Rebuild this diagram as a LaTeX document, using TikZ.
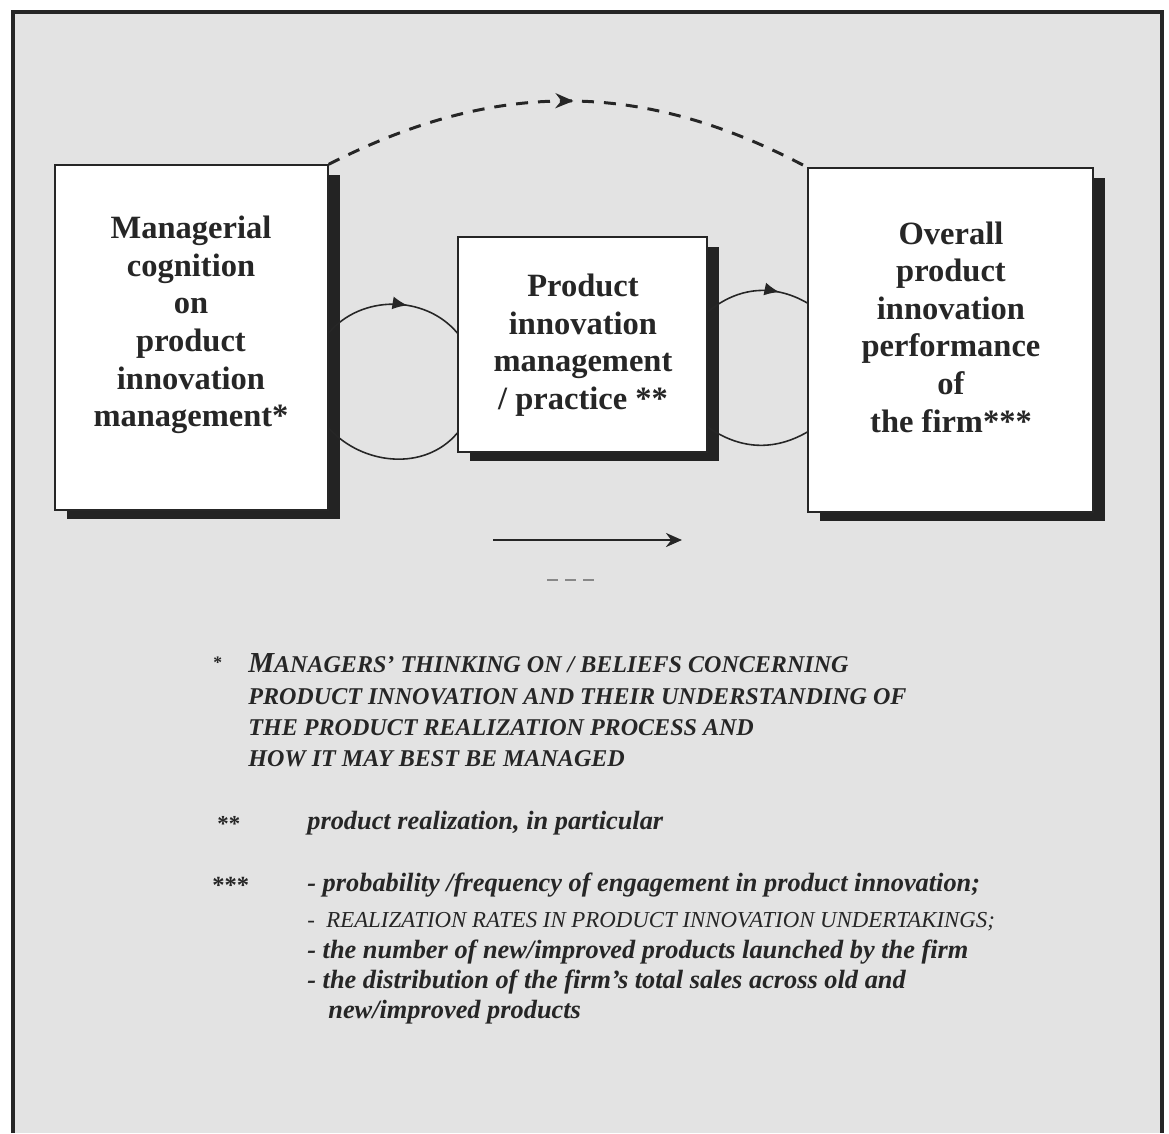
\documentclass[tikz,border=0pt]{standalone}
\usepackage{fontspec}
\setmainfont{Liberation Serif}
\usetikzlibrary{shadows,arrows.meta,decorations.markings}

\definecolor{paper}{RGB}{227,227,227}
\definecolor{ink}{RGB}{38,38,38}
\definecolor{shade}{RGB}{35,35,35}

\tikzset{
  blok/.style={draw=ink, line width=0.8pt, fill=white, inner sep=0pt,
    drop shadow={shadow xshift=0.24cm, shadow yshift=-0.19cm, fill=shade, opacity=1}},
  bloktxt/.style={align=center, inner sep=0pt, text=ink,
    font=\fontsize{18.5}{21.4}\selectfont\bfseries},
  cyc/.style={ink, line width=0.9pt},
  midarrow/.style={postaction={decorate}, decoration={markings,
    mark=at position #1 with {\arrow{Latex[length=3mm,width=2.6mm]}}}},
  note/.style={anchor=base west, inner sep=0pt, text=ink,
    font=\fontsize{15}{18}\selectfont\bfseries\itshape},
  capnote/.style={note, font=\fontsize{13.7}{16}\selectfont\bfseries\itshape},
}

\begin{document}
\begin{tikzpicture}[x=0.02cm, y=0.02cm]

  % 背景和边框, 下面是开口的
  \useasboundingbox (0,0) rectangle (1169,-1133);
  \fill[white] (0,0) rectangle (1169,-1133);
  \fill[paper] (13,-12) rectangle (1162,-1133);
  \draw[ink, line width=2.2pt] (13,-1133) -- (13,-12) -- (1162,-12) -- (1162,-1133);

  % 三个带阴影的方框
  \node[blok, minimum width=5.46cm, minimum height=6.9cm] (cog) at (191.5,-337.5) {};
  \node[blok, minimum width=4.98cm, minimum height=4.3cm] (prac) at (582.5,-344.5) {};
  \node[blok, minimum width=5.7cm, minimum height=6.88cm] (perf) at (950.5,-340) {};

  % 方框里的文字
  \node[bloktxt] (cogtxt) at (191,-325) {Managerial\\cognition\\on\\product\\innovation\\management*};
  \node[bloktxt] (practxt) at (583,-345) {Product\\innovation\\management\\/ practice **};
  \node[bloktxt] (perftxt) at (951,-327) {Overall\\product\\innovation\\performance\\of\\the firm***};

  % 方框之间的弧线, 上面的带箭头
  \draw[cyc, midarrow=0.6] (cog.east |- 0,-333) to[out=50,in=130] (prac.west |- 0,-333);
  \draw[cyc] (cog.east |- 0,-428) to[out=-48,in=-130] (prac.west |- 0,-433);
  \draw[cyc, midarrow=0.72] (prac.east |- 0,-312) to[out=40,in=150] (perf.west |- 0,-303);
  \draw[cyc] (prac.east |- 0,-427) to[out=-35,in=-150] (perf.west |- 0,-432);

  % 上方的虚线弧, 中间一个箭头
  \draw[ink, line width=1.7pt, dash pattern=on 0.24cm off 0.2cm, postaction={decorate},
    decoration={markings, mark=at position 0.51 with {\arrow{Stealth[length=3.6mm,width=3mm]}}}]
    (cog.north east) to[out=27,in=152] (perf.north west);

  % 图例: 实线箭头和虚线
  \coordinate (solidS) at (493,-540);
  \coordinate (solidE) at (682,-540);
  \draw[ink, line width=1.5pt, -{Stealth[length=3.2mm,width=2.8mm]}] (solidS) -- (solidE);
  \coordinate (dashS) at (547,-580);
  \coordinate (dashE) at (600,-580);
  \draw[ink!55, line width=1.2pt, dash pattern=on 0.22cm off 0.14cm] (dashS) -- (dashE);

  % 注释 *
  \node[note, font=\fontsize{10}{12}\selectfont\bfseries] (st1) at (213,-668) {*};
  \node[capnote] (c1) at (248,-672) {{\fontsize{16.5}{18}\selectfont M}ANAGERS' THINKING ON / BELIEFS CONCERNING};
  \node[capnote] (c2) at (248,-704) {PRODUCT INNOVATION AND THEIR UNDERSTANDING OF};
  \node[capnote] (c3) at (248,-735) {THE PRODUCT REALIZATION PROCESS AND};
  \node[capnote] (c4) at (248,-766) {HOW IT MAY BEST BE MANAGED};

  % 注释 **
  \node[note, font=\fontsize{13}{15}\selectfont\bfseries] (st2) at (217,-831) {**};
  \node[note] (d1) at (307,-829) {product realization, in particular};

  % 注释 ***
  \node[note, font=\fontsize{14}{15}\selectfont\bfseries] (st3) at (212,-893) {***};
  \node[note] (e1) at (307,-891) {- probability /frequency of engagement in product innovation;};
  \node[note, font=\fontsize{13}{15}\selectfont\itshape] (e2) at (307,-927) {- \ REALIZATION RATES IN PRODUCT INNOVATION UNDERTAKINGS;};
  \node[note] (e3) at (307,-958) {- the number of new/improved products launched by the firm};
  \node[note] (e4) at (307,-988) {- the distribution of the firm's total sales across old and};
  \node[note] (e5) at (328,-1018) {new/improved products};

\end{tikzpicture}
\end{document}
